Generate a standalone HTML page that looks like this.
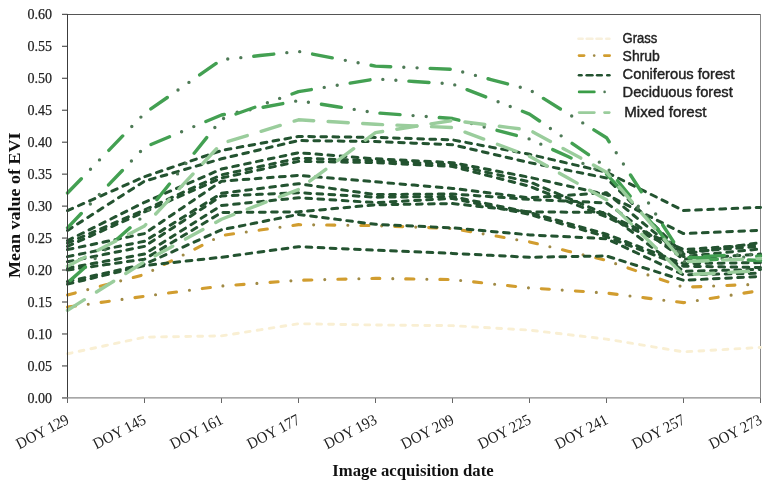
<!DOCTYPE html>
<html><head><meta charset="utf-8"><style>
html,body{margin:0;padding:0;background:#fff;}
body{width:767px;height:484px;overflow:hidden;font-family:"Liberation Sans",sans-serif;}
svg{display:block;}
svg{will-change:transform;}
.serif{font-family:"Liberation Serif",serif;}
.sans{font-family:"Liberation Sans",sans-serif;}
</style></head><body>
<svg width="767" height="484" viewBox="0 0 767 484">
<rect width="767" height="484" fill="#fff"/>
<line x1="67" y1="14.5" x2="760.5" y2="14.5" stroke="#555" stroke-width="1"/>
<line x1="760.5" y1="14" x2="760.5" y2="403" stroke="#888" stroke-width="1"/>
<line x1="62" y1="397.90" x2="67.5" y2="397.90" stroke="#333" stroke-width="1"/>
<text x="52" y="402.60" text-anchor="end" class="serif" font-size="15.5" fill="#222" stroke="#222" stroke-width="0.25" textLength="24.6" lengthAdjust="spacingAndGlyphs">0.00</text>
<line x1="62" y1="365.94" x2="67.5" y2="365.94" stroke="#333" stroke-width="1"/>
<text x="52" y="370.63" text-anchor="end" class="serif" font-size="15.5" fill="#222" stroke="#222" stroke-width="0.25" textLength="24.6" lengthAdjust="spacingAndGlyphs">0.05</text>
<line x1="62" y1="333.97" x2="67.5" y2="333.97" stroke="#333" stroke-width="1"/>
<text x="52" y="338.67" text-anchor="end" class="serif" font-size="15.5" fill="#222" stroke="#222" stroke-width="0.25" textLength="24.6" lengthAdjust="spacingAndGlyphs">0.10</text>
<line x1="62" y1="302.00" x2="67.5" y2="302.00" stroke="#333" stroke-width="1"/>
<text x="52" y="306.70" text-anchor="end" class="serif" font-size="15.5" fill="#222" stroke="#222" stroke-width="0.25" textLength="24.6" lengthAdjust="spacingAndGlyphs">0.15</text>
<line x1="62" y1="270.04" x2="67.5" y2="270.04" stroke="#333" stroke-width="1"/>
<text x="52" y="274.74" text-anchor="end" class="serif" font-size="15.5" fill="#222" stroke="#222" stroke-width="0.25" textLength="24.6" lengthAdjust="spacingAndGlyphs">0.20</text>
<line x1="62" y1="238.07" x2="67.5" y2="238.07" stroke="#333" stroke-width="1"/>
<text x="52" y="242.77" text-anchor="end" class="serif" font-size="15.5" fill="#222" stroke="#222" stroke-width="0.25" textLength="24.6" lengthAdjust="spacingAndGlyphs">0.25</text>
<line x1="62" y1="206.11" x2="67.5" y2="206.11" stroke="#333" stroke-width="1"/>
<text x="52" y="210.81" text-anchor="end" class="serif" font-size="15.5" fill="#222" stroke="#222" stroke-width="0.25" textLength="24.6" lengthAdjust="spacingAndGlyphs">0.30</text>
<line x1="62" y1="174.14" x2="67.5" y2="174.14" stroke="#333" stroke-width="1"/>
<text x="52" y="178.84" text-anchor="end" class="serif" font-size="15.5" fill="#222" stroke="#222" stroke-width="0.25" textLength="24.6" lengthAdjust="spacingAndGlyphs">0.35</text>
<line x1="62" y1="142.18" x2="67.5" y2="142.18" stroke="#333" stroke-width="1"/>
<text x="52" y="146.88" text-anchor="end" class="serif" font-size="15.5" fill="#222" stroke="#222" stroke-width="0.25" textLength="24.6" lengthAdjust="spacingAndGlyphs">0.40</text>
<line x1="62" y1="110.21" x2="67.5" y2="110.21" stroke="#333" stroke-width="1"/>
<text x="52" y="114.91" text-anchor="end" class="serif" font-size="15.5" fill="#222" stroke="#222" stroke-width="0.25" textLength="24.6" lengthAdjust="spacingAndGlyphs">0.45</text>
<line x1="62" y1="78.25" x2="67.5" y2="78.25" stroke="#333" stroke-width="1"/>
<text x="52" y="82.95" text-anchor="end" class="serif" font-size="15.5" fill="#222" stroke="#222" stroke-width="0.25" textLength="24.6" lengthAdjust="spacingAndGlyphs">0.50</text>
<line x1="62" y1="46.28" x2="67.5" y2="46.28" stroke="#333" stroke-width="1"/>
<text x="52" y="50.98" text-anchor="end" class="serif" font-size="15.5" fill="#222" stroke="#222" stroke-width="0.25" textLength="24.6" lengthAdjust="spacingAndGlyphs">0.55</text>
<line x1="62" y1="14.32" x2="67.5" y2="14.32" stroke="#333" stroke-width="1"/>
<text x="52" y="19.02" text-anchor="end" class="serif" font-size="15.5" fill="#222" stroke="#222" stroke-width="0.25" textLength="24.6" lengthAdjust="spacingAndGlyphs">0.60</text>
<line x1="67.50" y1="398" x2="67.50" y2="403" stroke="#666" stroke-width="1"/>
<text transform="translate(70.20,423) rotate(-27.5)" text-anchor="end" class="serif" font-size="15.8" fill="#222" textLength="57.5" lengthAdjust="spacingAndGlyphs">DOY 129</text>
<line x1="144.50" y1="398" x2="144.50" y2="403" stroke="#666" stroke-width="1"/>
<text transform="translate(147.20,423) rotate(-27.5)" text-anchor="end" class="serif" font-size="15.8" fill="#222" textLength="57.5" lengthAdjust="spacingAndGlyphs">DOY 145</text>
<line x1="221.50" y1="398" x2="221.50" y2="403" stroke="#666" stroke-width="1"/>
<text transform="translate(224.20,423) rotate(-27.5)" text-anchor="end" class="serif" font-size="15.8" fill="#222" textLength="57.5" lengthAdjust="spacingAndGlyphs">DOY 161</text>
<line x1="298.50" y1="398" x2="298.50" y2="403" stroke="#666" stroke-width="1"/>
<text transform="translate(301.20,423) rotate(-27.5)" text-anchor="end" class="serif" font-size="15.8" fill="#222" textLength="57.5" lengthAdjust="spacingAndGlyphs">DOY 177</text>
<line x1="375.50" y1="398" x2="375.50" y2="403" stroke="#666" stroke-width="1"/>
<text transform="translate(378.20,423) rotate(-27.5)" text-anchor="end" class="serif" font-size="15.8" fill="#222" textLength="57.5" lengthAdjust="spacingAndGlyphs">DOY 193</text>
<line x1="452.50" y1="398" x2="452.50" y2="403" stroke="#666" stroke-width="1"/>
<text transform="translate(455.20,423) rotate(-27.5)" text-anchor="end" class="serif" font-size="15.8" fill="#222" textLength="57.5" lengthAdjust="spacingAndGlyphs">DOY 209</text>
<line x1="529.50" y1="398" x2="529.50" y2="403" stroke="#666" stroke-width="1"/>
<text transform="translate(532.20,423) rotate(-27.5)" text-anchor="end" class="serif" font-size="15.8" fill="#222" textLength="57.5" lengthAdjust="spacingAndGlyphs">DOY 225</text>
<line x1="606.50" y1="398" x2="606.50" y2="403" stroke="#666" stroke-width="1"/>
<text transform="translate(609.20,423) rotate(-27.5)" text-anchor="end" class="serif" font-size="15.8" fill="#222" textLength="57.5" lengthAdjust="spacingAndGlyphs">DOY 241</text>
<line x1="683.50" y1="398" x2="683.50" y2="403" stroke="#666" stroke-width="1"/>
<text transform="translate(686.20,423) rotate(-27.5)" text-anchor="end" class="serif" font-size="15.8" fill="#222" textLength="57.5" lengthAdjust="spacingAndGlyphs">DOY 257</text>
<line x1="760.50" y1="398" x2="760.50" y2="403" stroke="#666" stroke-width="1"/>
<text transform="translate(763.20,423) rotate(-27.5)" text-anchor="end" class="serif" font-size="15.8" fill="#222" textLength="57.5" lengthAdjust="spacingAndGlyphs">DOY 273</text>
<path d="M67.50,353.79 C67.50,353.79 144.50,337.17 144.50,337.17 C144.50,337.17 221.50,335.89 221.50,335.89 C221.50,335.89 298.50,323.74 298.50,323.74 C298.50,323.74 375.50,325.02 375.50,325.02 C375.50,325.02 452.50,325.66 452.50,325.66 C452.50,325.66 529.50,330.13 529.50,330.13 C529.50,330.13 606.50,339.08 606.50,339.08 C606.50,339.08 683.50,351.87 683.50,351.87 C683.50,351.87 760.50,347.40 760.50,347.40" stroke="#f9efd3" stroke-width="2.9" stroke-dasharray="4.8 7.2" stroke-dashoffset="0.00" stroke-linecap="round" stroke-linejoin="round" fill="none"/>
<path d="M67.50,294.97 C67.50,294.97 144.50,274.52 144.50,274.52 C144.50,274.52 221.50,235.52 221.50,235.52 C221.50,235.52 298.50,224.65 298.50,224.65 C298.50,224.65 375.50,225.61 375.50,225.61 C375.50,225.61 452.50,228.49 452.50,228.49 C452.50,228.49 529.50,241.91 529.50,241.91 C529.50,241.91 606.50,260.45 606.50,260.45 C606.50,260.45 683.50,287.30 683.50,287.30 C683.50,287.30 760.50,284.10 760.50,284.10" stroke="#d19d2f" stroke-width="3.1" stroke-dasharray="8.1 25.9" stroke-dashoffset="0.00" stroke-linecap="round" stroke-linejoin="round" fill="none"/>
<path d="M67.50,294.97 C67.50,294.97 144.50,274.52 144.50,274.52 C144.50,274.52 221.50,235.52 221.50,235.52 C221.50,235.52 298.50,224.65 298.50,224.65 C298.50,224.65 375.50,225.61 375.50,225.61 C375.50,225.61 452.50,228.49 452.50,228.49 C452.50,228.49 529.50,241.91 529.50,241.91 C529.50,241.91 606.50,260.45 606.50,260.45 C606.50,260.45 683.50,287.30 683.50,287.30 C683.50,287.30 760.50,284.10 760.50,284.10" stroke="#a08a45" stroke-width="3.1" stroke-dasharray="0 34" stroke-dashoffset="13.00" stroke-linecap="round" fill="none"/>
<path d="M67.50,307.12 C67.50,307.12 144.50,296.25 144.50,296.25 C144.50,296.25 221.50,286.02 221.50,286.02 C221.50,286.02 298.50,280.27 298.50,280.27 C298.50,280.27 375.50,278.35 375.50,278.35 C375.50,278.35 452.50,279.63 452.50,279.63 C452.50,279.63 529.50,287.94 529.50,287.94 C529.50,287.94 606.50,293.05 606.50,293.05 C606.50,293.05 683.50,302.64 683.50,302.64 C683.50,302.64 760.50,290.50 760.50,290.50" stroke="#d19d2f" stroke-width="3.1" stroke-dasharray="8.1 25.9" stroke-dashoffset="0.00" stroke-linecap="round" stroke-linejoin="round" fill="none"/>
<path d="M67.50,307.12 C67.50,307.12 144.50,296.25 144.50,296.25 C144.50,296.25 221.50,286.02 221.50,286.02 C221.50,286.02 298.50,280.27 298.50,280.27 C298.50,280.27 375.50,278.35 375.50,278.35 C375.50,278.35 452.50,279.63 452.50,279.63 C452.50,279.63 529.50,287.94 529.50,287.94 C529.50,287.94 606.50,293.05 606.50,293.05 C606.50,293.05 683.50,302.64 683.50,302.64 C683.50,302.64 760.50,290.50 760.50,290.50" stroke="#a08a45" stroke-width="3.1" stroke-dasharray="0 34" stroke-dashoffset="13.00" stroke-linecap="round" fill="none"/>
<path d="M67.50,210.59 C67.50,210.59 144.50,176.70 144.50,176.70 C144.50,176.70 221.50,150.49 221.50,150.49 C221.50,150.49 298.50,136.43 298.50,136.43 C298.50,136.43 375.50,137.39 375.50,137.39 C375.50,137.39 452.50,139.88 452.50,139.88 C452.50,139.88 529.50,154.33 529.50,154.33 C529.50,154.33 606.50,172.23 606.50,172.23 C606.50,172.23 683.50,210.59 683.50,210.59 C683.50,210.59 760.50,207.39 760.50,207.39" stroke="#235330" stroke-width="3.0" stroke-dasharray="5.7 6.4" stroke-dashoffset="0.00" stroke-linecap="round" stroke-linejoin="round" fill="none"/>
<path d="M67.50,230.40 C67.50,230.40 144.50,181.18 144.50,181.18 C144.50,181.18 221.50,158.80 221.50,158.80 C221.50,158.80 298.50,140.58 298.50,140.58 C298.50,140.58 375.50,141.54 375.50,141.54 C375.50,141.54 452.50,144.74 452.50,144.74 C452.50,144.74 529.50,162.64 529.50,162.64 C529.50,162.64 606.50,177.98 606.50,177.98 C606.50,177.98 683.50,254.06 683.50,254.06 C683.50,254.06 760.50,242.55 760.50,242.55" stroke="#235330" stroke-width="3.0" stroke-dasharray="5.7 6.4" stroke-dashoffset="0.00" stroke-linecap="round" stroke-linejoin="round" fill="none"/>
<path d="M67.50,240.63 C67.50,240.63 144.50,202.27 144.50,202.27 C144.50,202.27 221.50,169.03 221.50,169.03 C221.50,169.03 298.50,152.73 298.50,152.73 C298.50,152.73 375.50,158.80 375.50,158.80 C375.50,158.80 452.50,162.64 452.50,162.64 C452.50,162.64 529.50,177.34 529.50,177.34 C529.50,177.34 606.50,194.60 606.50,194.60 C606.50,194.60 683.50,233.60 683.50,233.60 C683.50,233.60 760.50,230.40 760.50,230.40" stroke="#235330" stroke-width="3.0" stroke-dasharray="5.7 6.4" stroke-dashoffset="0.00" stroke-linecap="round" stroke-linejoin="round" fill="none"/>
<path d="M67.50,243.19 C67.50,243.19 144.50,209.95 144.50,209.95 C144.50,209.95 221.50,174.78 221.50,174.78 C221.50,174.78 298.50,158.16 298.50,158.16 C298.50,158.16 375.50,160.72 375.50,160.72 C375.50,160.72 452.50,164.56 452.50,164.56 C452.50,164.56 529.50,181.82 529.50,181.82 C529.50,181.82 606.50,214.42 606.50,214.42 C606.50,214.42 683.50,249.58 683.50,249.58 C683.50,249.58 760.50,244.47 760.50,244.47" stroke="#235330" stroke-width="3.0" stroke-dasharray="5.7 6.4" stroke-dashoffset="0.00" stroke-linecap="round" stroke-linejoin="round" fill="none"/>
<path d="M67.50,246.39 C67.50,246.39 144.50,211.86 144.50,211.86 C144.50,211.86 221.50,177.98 221.50,177.98 C221.50,177.98 298.50,161.36 298.50,161.36 C298.50,161.36 375.50,162.64 375.50,162.64 C375.50,162.64 452.50,166.47 452.50,166.47 C452.50,166.47 529.50,186.29 529.50,186.29 C529.50,186.29 606.50,216.98 606.50,216.98 C606.50,216.98 683.50,252.14 683.50,252.14 C683.50,252.14 760.50,246.39 760.50,246.39" stroke="#235330" stroke-width="3.0" stroke-dasharray="5.7 6.4" stroke-dashoffset="0.00" stroke-linecap="round" stroke-linejoin="round" fill="none"/>
<path d="M67.50,249.58 C67.50,249.58 144.50,233.60 144.50,233.60 C144.50,233.60 221.50,181.18 221.50,181.18 C221.50,181.18 298.50,175.42 298.50,175.42 C298.50,175.42 375.50,181.82 375.50,181.82 C375.50,181.82 452.50,188.40 452.50,188.40 C452.50,188.40 529.50,197.80 529.50,197.80 C529.50,197.80 606.50,192.68 606.50,192.68 C606.50,192.68 683.50,256.61 683.50,256.61 C683.50,256.61 760.50,248.94 760.50,248.94" stroke="#235330" stroke-width="3.0" stroke-dasharray="5.7 6.4" stroke-dashoffset="0.00" stroke-linecap="round" stroke-linejoin="round" fill="none"/>
<path d="M67.50,256.61 C67.50,256.61 144.50,241.27 144.50,241.27 C144.50,241.27 221.50,193.32 221.50,193.32 C221.50,193.32 298.50,183.73 298.50,183.73 C298.50,183.73 375.50,194.60 375.50,194.60 C375.50,194.60 452.50,193.96 452.50,193.96 C452.50,193.96 529.50,199.40 529.50,199.40 C529.50,199.40 606.50,202.91 606.50,202.91 C606.50,202.91 683.50,259.17 683.50,259.17 C683.50,259.17 760.50,254.06 760.50,254.06" stroke="#235330" stroke-width="3.0" stroke-dasharray="5.7 6.4" stroke-dashoffset="0.00" stroke-linecap="round" stroke-linejoin="round" fill="none"/>
<path d="M67.50,261.73 C67.50,261.73 144.50,246.39 144.50,246.39 C144.50,246.39 221.50,195.88 221.50,195.88 C221.50,195.88 298.50,192.68 298.50,192.68 C298.50,192.68 375.50,197.16 375.50,197.16 C375.50,197.16 452.50,196.52 452.50,196.52 C452.50,196.52 529.50,212.50 529.50,212.50 C529.50,212.50 606.50,234.24 606.50,234.24 C606.50,234.24 683.50,263.65 683.50,263.65 C683.50,263.65 760.50,262.62 760.50,262.62" stroke="#235330" stroke-width="3.0" stroke-dasharray="5.7 6.4" stroke-dashoffset="0.00" stroke-linecap="round" stroke-linejoin="round" fill="none"/>
<path d="M67.50,268.12 C67.50,268.12 144.50,254.06 144.50,254.06 C144.50,254.06 221.50,205.47 221.50,205.47 C221.50,205.47 298.50,197.80 298.50,197.80 C298.50,197.80 375.50,202.59 375.50,202.59 C375.50,202.59 452.50,198.44 452.50,198.44 C452.50,198.44 529.50,214.42 529.50,214.42 C529.50,214.42 606.50,236.80 606.50,236.80 C606.50,236.80 683.50,266.20 683.50,266.20 C683.50,266.20 760.50,267.48 760.50,267.48" stroke="#235330" stroke-width="3.0" stroke-dasharray="5.7 6.4" stroke-dashoffset="0.00" stroke-linecap="round" stroke-linejoin="round" fill="none"/>
<path d="M67.50,270.04 C67.50,270.04 144.50,259.17 144.50,259.17 C144.50,259.17 221.50,212.50 221.50,212.50 C221.50,212.50 298.50,211.86 298.50,211.86 C298.50,211.86 375.50,204.83 375.50,204.83 C375.50,204.83 452.50,203.55 452.50,203.55 C452.50,203.55 529.50,211.86 529.50,211.86 C529.50,211.86 606.50,212.50 606.50,212.50 C606.50,212.50 683.50,271.32 683.50,271.32 C683.50,271.32 760.50,269.40 760.50,269.40" stroke="#235330" stroke-width="3.0" stroke-dasharray="5.7 6.4" stroke-dashoffset="0.00" stroke-linecap="round" stroke-linejoin="round" fill="none"/>
<path d="M67.50,281.55 C67.50,281.55 144.50,264.29 144.50,264.29 C144.50,264.29 221.50,229.76 221.50,229.76 C221.50,229.76 298.50,214.42 298.50,214.42 C298.50,214.42 375.50,224.33 375.50,224.33 C375.50,224.33 452.50,227.85 452.50,227.85 C452.50,227.85 529.50,234.88 529.50,234.88 C529.50,234.88 606.50,238.71 606.50,238.71 C606.50,238.71 683.50,274.83 683.50,274.83 C683.50,274.83 760.50,273.24 760.50,273.24" stroke="#235330" stroke-width="3.0" stroke-dasharray="5.7 6.4" stroke-dashoffset="0.00" stroke-linecap="round" stroke-linejoin="round" fill="none"/>
<path d="M67.50,284.10 C67.50,284.10 144.50,265.56 144.50,265.56 C144.50,265.56 221.50,257.25 221.50,257.25 C221.50,257.25 298.50,246.71 298.50,246.71 C298.50,246.71 375.50,250.22 375.50,250.22 C375.50,250.22 452.50,253.42 452.50,253.42 C452.50,253.42 529.50,257.25 529.50,257.25 C529.50,257.25 606.50,255.98 606.50,255.98 C606.50,255.98 683.50,280.27 683.50,280.27 C683.50,280.27 760.50,276.43 760.50,276.43" stroke="#235330" stroke-width="3.0" stroke-dasharray="5.7 6.4" stroke-dashoffset="0.00" stroke-linecap="round" stroke-linejoin="round" fill="none"/>
<path d="M67.50,193.00 C67.50,193.00 144.50,113.41 144.50,113.41 C144.50,113.41 221.50,59.71 221.50,59.71 C221.50,59.71 298.50,51.40 298.50,51.40 C298.50,51.40 375.50,66.10 375.50,66.10 C375.50,66.10 452.50,69.30 452.50,69.30 C452.50,69.30 529.50,89.76 529.50,89.76 C529.50,89.76 606.50,137.70 606.50,137.70 C606.50,137.70 683.50,257.25 683.50,257.25 C683.50,257.25 760.50,254.06 760.50,254.06" stroke="#43a052" stroke-width="3.4" stroke-dasharray="20 39.3" stroke-dashoffset="0.00" stroke-linecap="round" stroke-linejoin="round" fill="none"/>
<path d="M67.50,193.00 C67.50,193.00 144.50,113.41 144.50,113.41 C144.50,113.41 221.50,59.71 221.50,59.71 C221.50,59.71 298.50,51.40 298.50,51.40 C298.50,51.40 375.50,66.10 375.50,66.10 C375.50,66.10 452.50,69.30 452.50,69.30 C452.50,69.30 529.50,89.76 529.50,89.76 C529.50,89.76 606.50,137.70 606.50,137.70 C606.50,137.70 683.50,257.25 683.50,257.25 C683.50,257.25 760.50,254.06 760.50,254.06" stroke="#4e7a56" stroke-width="3.4" stroke-dasharray="0 13.1 0 46.2" stroke-dashoffset="26.20" stroke-linecap="round" fill="none"/>
<path d="M67.50,227.85 C67.50,227.85 144.50,147.29 144.50,147.29 C144.50,147.29 221.50,115.01 221.50,115.01 C221.50,115.01 298.50,100.63 298.50,100.63 C298.50,100.63 375.50,112.77 375.50,112.77 C375.50,112.77 452.50,118.53 452.50,118.53 C452.50,118.53 529.50,138.98 529.50,138.98 C529.50,138.98 606.50,174.15 606.50,174.15 C606.50,174.15 683.50,257.25 683.50,257.25 C683.50,257.25 760.50,260.45 760.50,260.45" stroke="#43a052" stroke-width="3.4" stroke-dasharray="20 39.3" stroke-dashoffset="0.00" stroke-linecap="round" stroke-linejoin="round" fill="none"/>
<path d="M67.50,227.85 C67.50,227.85 144.50,147.29 144.50,147.29 C144.50,147.29 221.50,115.01 221.50,115.01 C221.50,115.01 298.50,100.63 298.50,100.63 C298.50,100.63 375.50,112.77 375.50,112.77 C375.50,112.77 452.50,118.53 452.50,118.53 C452.50,118.53 529.50,138.98 529.50,138.98 C529.50,138.98 606.50,174.15 606.50,174.15 C606.50,174.15 683.50,257.25 683.50,257.25 C683.50,257.25 760.50,260.45 760.50,260.45" stroke="#4e7a56" stroke-width="3.4" stroke-dasharray="0 13.1 0 46.2" stroke-dashoffset="26.20" stroke-linecap="round" fill="none"/>
<path d="M67.50,282.83 C67.50,282.83 144.50,215.06 144.50,215.06 C144.50,215.06 221.50,119.17 221.50,119.17 C221.50,119.17 298.50,91.68 298.50,91.68 C298.50,91.68 375.50,78.89 375.50,78.89 C375.50,78.89 452.50,84.00 452.50,84.00 C452.50,84.00 529.50,114.05 529.50,114.05 C529.50,114.05 606.50,167.11 606.50,167.11 C606.50,167.11 683.50,261.73 683.50,261.73 C683.50,261.73 760.50,255.98 760.50,255.98" stroke="#43a052" stroke-width="3.4" stroke-dasharray="20 39.3" stroke-dashoffset="55.45" stroke-linecap="round" stroke-linejoin="round" fill="none"/>
<path d="M67.50,282.83 C67.50,282.83 144.50,215.06 144.50,215.06 C144.50,215.06 221.50,119.17 221.50,119.17 C221.50,119.17 298.50,91.68 298.50,91.68 C298.50,91.68 375.50,78.89 375.50,78.89 C375.50,78.89 452.50,84.00 452.50,84.00 C452.50,84.00 529.50,114.05 529.50,114.05 C529.50,114.05 606.50,167.11 606.50,167.11 C606.50,167.11 683.50,261.73 683.50,261.73 C683.50,261.73 760.50,255.98 760.50,255.98" stroke="#4e7a56" stroke-width="3.4" stroke-dasharray="0 13.1 0 46.2" stroke-dashoffset="22.35" stroke-linecap="round" fill="none"/>
<path d="M67.50,310.32 C67.50,310.32 144.50,261.73 144.50,261.73 C144.50,261.73 221.50,219.22 221.50,219.22 C221.50,219.22 298.50,189.49 298.50,189.49 C298.50,189.49 375.50,132.59 375.50,132.59 C375.50,132.59 452.50,120.44 452.50,120.44 C452.50,120.44 529.50,130.03 529.50,130.03 C529.50,130.03 606.50,172.23 606.50,172.23 C606.50,172.23 683.50,261.73 683.50,261.73 C683.50,261.73 760.50,258.53 760.50,258.53" stroke="#9acd9c" stroke-width="3.4" stroke-dasharray="20 14.45" stroke-dashoffset="0.00" stroke-linecap="round" stroke-linejoin="round" fill="none"/>
<path d="M67.50,266.20 C67.50,266.20 144.50,225.93 144.50,225.93 C144.50,225.93 221.50,143.46 221.50,143.46 C221.50,143.46 298.50,119.80 298.50,119.80 C298.50,119.80 375.50,124.28 375.50,124.28 C375.50,124.28 452.50,127.48 452.50,127.48 C452.50,127.48 529.50,156.24 529.50,156.24 C529.50,156.24 606.50,199.72 606.50,199.72 C606.50,199.72 683.50,274.83 683.50,274.83 C683.50,274.83 760.50,270.68 760.50,270.68" stroke="#9acd9c" stroke-width="3.4" stroke-dasharray="20 14.45" stroke-dashoffset="0.00" stroke-linecap="round" stroke-linejoin="round" fill="none"/>
<line x1="67.5" y1="14" x2="67.5" y2="398.5" stroke="#3c3c3c" stroke-width="1"/>
<line x1="62" y1="397.9" x2="760.5" y2="397.9" stroke="#8a8a8a" stroke-width="1.4"/>
<line x1="578.50" y1="38.80" x2="582.60" y2="38.80" stroke="#f8f0dc" stroke-width="2.6" stroke-linecap="round"/>
<line x1="586.70" y1="38.80" x2="592.40" y2="38.80" stroke="#f8f0dc" stroke-width="2.6" stroke-linecap="round"/>
<line x1="596.50" y1="38.80" x2="601.70" y2="38.80" stroke="#f8f0dc" stroke-width="2.6" stroke-linecap="round"/>
<line x1="606.30" y1="38.80" x2="609.40" y2="38.80" stroke="#f8f0dc" stroke-width="2.6" stroke-linecap="round"/>
<line x1="579.00" y1="55.60" x2="584.10" y2="55.60" stroke="#d19d2f" stroke-width="2.6" stroke-linecap="round"/>
<line x1="604.30" y1="55.60" x2="609.70" y2="55.60" stroke="#d19d2f" stroke-width="2.6" stroke-linecap="round"/>
<line x1="594.19" y1="55.60" x2="594.21" y2="55.60" stroke="#a08a45" stroke-width="2.6" stroke-linecap="round"/>
<line x1="579.00" y1="75.20" x2="581.50" y2="75.20" stroke="#235330" stroke-width="2.6" stroke-linecap="round"/>
<line x1="586.70" y1="75.20" x2="592.40" y2="75.20" stroke="#235330" stroke-width="2.6" stroke-linecap="round"/>
<line x1="597.10" y1="75.20" x2="601.70" y2="75.20" stroke="#235330" stroke-width="2.6" stroke-linecap="round"/>
<line x1="607.30" y1="75.20" x2="609.40" y2="75.20" stroke="#235330" stroke-width="2.6" stroke-linecap="round"/>
<line x1="579.10" y1="91.90" x2="594.40" y2="91.90" stroke="#3a9d47" stroke-width="2.6" stroke-linecap="round"/>
<line x1="604.59" y1="91.90" x2="604.61" y2="91.90" stroke="#4e7a56" stroke-width="2.6" stroke-linecap="round"/>
<line x1="579.10" y1="112.60" x2="594.40" y2="112.60" stroke="#9acd9c" stroke-width="2.6" stroke-linecap="round"/>
<line x1="604.50" y1="112.60" x2="609.30" y2="112.60" stroke="#9acd9c" stroke-width="2.6" stroke-linecap="round"/>
<text x="622.6" y="42.9" class="sans" font-size="14" fill="#222" stroke="#222" stroke-width="0.4" textLength="34.7" lengthAdjust="spacingAndGlyphs">Grass</text>
<text x="622.6" y="61.0" class="sans" font-size="14" fill="#222" stroke="#222" stroke-width="0.4" textLength="37.3" lengthAdjust="spacingAndGlyphs">Shrub</text>
<text x="622.6" y="78.8" class="sans" font-size="14" fill="#222" stroke="#222" stroke-width="0.4" textLength="111.9" lengthAdjust="spacingAndGlyphs">Coniferous forest</text>
<text x="622.6" y="97.0" class="sans" font-size="14" fill="#222" stroke="#222" stroke-width="0.4" textLength="110.2" lengthAdjust="spacingAndGlyphs">Deciduous forest</text>
<text x="624.3" y="117.3" class="sans" font-size="14" fill="#222" stroke="#222" stroke-width="0.4" textLength="82.2" lengthAdjust="spacingAndGlyphs">Mixed forest</text>
<text transform="translate(19.6,205.2) rotate(-90)" text-anchor="middle" class="serif" font-weight="bold" font-size="17.5" fill="#111" textLength="145.5" lengthAdjust="spacingAndGlyphs">Mean value of EVI</text>
<text x="413" y="475.6" text-anchor="middle" class="serif" font-weight="bold" font-size="17" fill="#111" textLength="161.3" lengthAdjust="spacingAndGlyphs">Image acquisition date</text>
</svg>
</body></html>
